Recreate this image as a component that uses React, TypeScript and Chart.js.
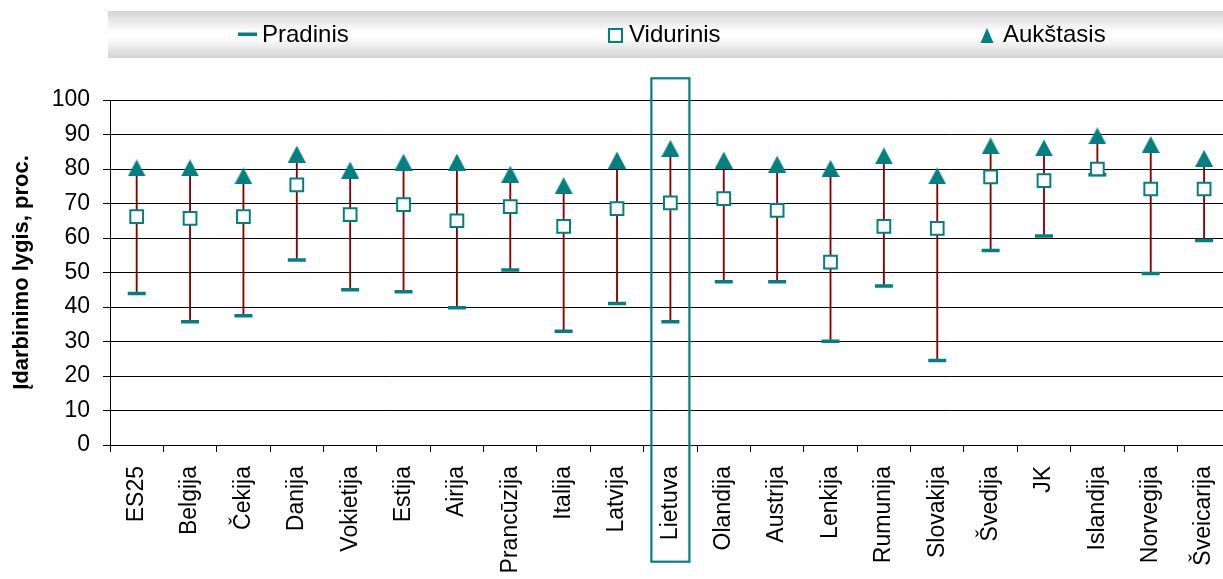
import React, { useEffect, useRef } from 'react';
import { Chart, registerables } from 'chart.js';

Chart.register(...registerables);

const categories = [
  'ES25', 'Belgija', 'Čekija', 'Danija', 'Vokietija', 'Estija', 'Airija',
  'Prancūzija', 'Italija', 'Latvija', 'Lietuva', 'Olandija', 'Austrija',
  'Lenkija', 'Rumunija', 'Slovakija', 'Švedija', 'JK', 'Islandija',
  'Norvegija', 'Šveicarija',
];
const pradinis = [43.9, 35.7, 37.5, 53.6, 45.0, 44.4, 39.8, 50.7, 33.0, 41.0, 35.7, 47.3, 47.3, 30.1, 46.1, 24.5, 56.4, 60.6, 78.3, 49.7, 59.3];
const vidurinis = [66.2, 65.7, 66.2, 75.4, 66.8, 69.7, 65.0, 69.1, 63.4, 68.5, 70.2, 71.4, 68.0, 53.0, 63.4, 62.8, 77.7, 76.6, 80.0, 74.2, 74.2];
const aukstasis = [80.3, 80.3, 78.0, 84.3, 79.7, 82.0, 82.0, 78.5, 75.2, 82.6, 86.0, 82.6, 81.4, 80.2, 83.8, 78.0, 86.7, 86.1, 89.6, 87.1, 83.1];
const seriesNames = ['Pradinis', 'Vidurinis', 'Aukštasis'];
const yAxisTitle = 'Įdarbinimo lygis, proc.';
const yMin = 0;
const yMax = 100;
const yStep = 10;
const highlighted = 'Lietuva';

const FONT = "'Liberation Sans', Arial, Helvetica, sans-serif";
const TEAL = '#008080';
const WHISKER = '#8b0000';

function makeTriangle(w: number, h: number) {
  const c = document.createElement('canvas');
  c.width = w;
  c.height = h;
  const g = c.getContext('2d')!;
  g.fillStyle = TEAL;
  g.beginPath();
  g.moveTo(0, h);
  g.lineTo(w / 2, 0);
  g.lineTo(w, h);
  g.closePath();
  g.fill();
  return c;
}

const legendPlugin = {
  id: 'customLegend',
  beforeDraw(chart: any) {
    const ctx = chart.ctx as CanvasRenderingContext2D;
    ctx.save();
    const top = 11;
    const bottom = 58;
    const grad = ctx.createLinearGradient(0, top, 0, bottom);
    grad.addColorStop(0, '#d4d4d4');
    grad.addColorStop(0.45, '#ffffff');
    grad.addColorStop(0.55, '#ffffff');
    grad.addColorStop(1, '#d4d4d4');
    ctx.fillStyle = grad;
    ctx.fillRect(108, top, chart.width - 108, bottom - top);

    ctx.font = `24px ${FONT}`;
    ctx.fillStyle = '#000';
    ctx.textBaseline = 'alphabetic';
    ctx.textAlign = 'left';
    const baseline = 42;

    // Pradinis
    ctx.fillStyle = TEAL;
    ctx.fillRect(238, 32.5, 19, 3.5);
    ctx.fillStyle = '#000';
    ctx.fillText(seriesNames[0], 262, baseline);

    // Vidurinis
    ctx.strokeStyle = TEAL;
    ctx.lineWidth = 2;
    ctx.fillStyle = '#fff';
    ctx.fillRect(609, 29, 13, 13);
    ctx.strokeRect(609, 29, 13, 13);
    ctx.fillStyle = '#000';
    ctx.fillText(seriesNames[1], 629, baseline);

    // Aukštasis
    ctx.fillStyle = TEAL;
    ctx.beginPath();
    ctx.moveTo(980.5, 43);
    ctx.lineTo(987, 28);
    ctx.lineTo(993.5, 43);
    ctx.closePath();
    ctx.fill();
    ctx.fillStyle = '#000';
    ctx.fillText(seriesNames[2], 1003, baseline);
    ctx.restore();
  },
  afterDraw(chart: any) {
    const ctx = chart.ctx as CanvasRenderingContext2D;
    const idx = categories.indexOf(highlighted);
    if (idx < 0) return;
    const cx = chart.scales.x.getPixelForValue(idx);
    ctx.save();
    ctx.strokeStyle = TEAL;
    ctx.lineWidth = 2.2;
    ctx.strokeRect(cx - 19, 78.3, 38, 483.4);
    ctx.restore();
  },
};

export default function App() {
  const canvasRef = useRef<HTMLCanvasElement | null>(null);

  useEffect(() => {
    if (!canvasRef.current) return;
    const tri = makeTriangle(18, 17);
    const chart = new Chart(canvasRef.current, {
      type: 'bar',
      data: {
        labels: categories,
        datasets: [
          {
            type: 'bar',
            label: 'range',
            data: categories.map((_, i) => [pradinis[i], aukstasis[i]]) as any,
            backgroundColor: WHISKER,
            barThickness: 1.2,
            borderWidth: 0,
            grouped: false,
            order: 3,
          } as any,
          {
            type: 'line',
            label: seriesNames[0],
            data: pradinis,
            showLine: false,
            pointStyle: 'line',
            pointRadius: 9,
            pointBorderWidth: 3.5,
            pointBorderColor: TEAL,
            pointBackgroundColor: TEAL,
            order: 2,
          } as any,
          {
            type: 'line',
            label: seriesNames[1],
            data: vidurinis,
            showLine: false,
            pointStyle: 'rect',
            pointRadius: 9,
            pointBorderWidth: 2,
            pointBorderColor: TEAL,
            pointBackgroundColor: '#ffffff',
            order: 1,
          } as any,
          {
            type: 'line',
            label: seriesNames[2],
            data: aukstasis,
            showLine: false,
            pointStyle: tri,
            pointRadius: 9,
            order: 0,
          } as any,
        ],
      },
      options: {
        responsive: false,
        animation: false,
        events: [],
        layout: { padding: { top: 100, right: 8, bottom: 0, left: 0 } },
        plugins: {
          legend: { display: false },
          tooltip: { enabled: false },
          title: { display: false },
        },
        scales: {
          x: {
            offset: true,
            grid: {
              display: true,
              drawOnChartArea: false,
              drawTicks: true,
              tickLength: 7,
              color: '#000',
              offset: true,
            },
            border: { display: true, color: '#000', width: 1 },
            ticks: {
              minRotation: 90,
              maxRotation: 90,
              autoSkip: false,
              padding: 14,
              color: '#000',
              font: { family: FONT, size: 23 },
            },
            afterFit: (s: any) => {
              s.height = 134;
            },
          },
          y: {
            min: yMin,
            max: yMax,
            ticks: {
              stepSize: yStep,
              padding: 13,
              color: '#000',
              font: { family: FONT, size: 23 },
            },
            grid: { color: '#000', lineWidth: 1, tickLength: 7, drawTicks: true },
            border: { display: true, color: '#000', width: 1 },
            title: {
              display: true,
              text: yAxisTitle,
              color: '#000',
              font: { family: FONT, size: 22, weight: 'bold' },
              padding: { top: 9, bottom: 0 },
            },
            afterFit: (s: any) => {
              s.width = 110;
            },
          },
        },
      } as any,
      plugins: [legendPlugin],
    });
    return () => chart.destroy();
  }, []);

  return (
    <div
      style={{
        position: 'absolute',
        left: 0,
        top: 0,
        width: 1223,
        height: 579,
        overflow: 'hidden',
        background: '#fff',
      }}
    >
      <canvas ref={canvasRef} width={1246} height={579} style={{ display: 'block' }} />
    </div>
  );
}
